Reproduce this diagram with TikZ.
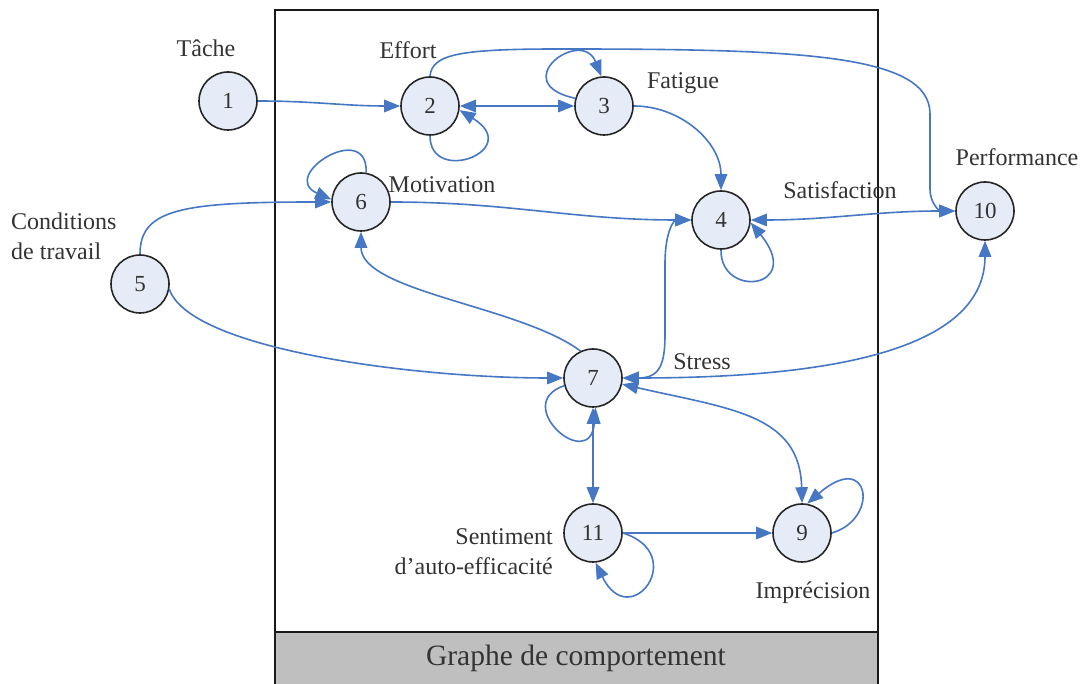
\documentclass[tikz,border=0pt]{standalone}
\usepackage{fontspec}
\setmainfont{Liberation Serif}
\usetikzlibrary{arrows.meta}
\definecolor{edgeblue}{HTML}{4677C4}
\definecolor{nodefill}{HTML}{E6ECF7}
\definecolor{txt}{HTML}{333333}
\begin{document}
\begin{tikzpicture}[x=1pt,y=1pt,
  st/.style={circle,draw=black!85,line width=1.6pt,fill=nodefill,minimum size=58pt,inner sep=0pt,font=\fontsize{23}{26}\selectfont,text=txt},
  lbl/.style={font=\fontsize{24}{30}\selectfont,text=txt,inner sep=0pt},
  ed/.style={draw=edgeblue,line width=1.6pt},
  arr/.style={ed,-{Triangle[length=16pt,width=12.5pt]}},
  arrr/.style={ed,{Triangle[length=16pt,width=12.5pt]}-{Triangle[length=16pt,width=12.5pt]}}]
\useasboundingbox (0,0) rectangle (1083,684);
% frame
\fill[black!25] (275,0) rectangle (878,52);
\draw[line width=2.8pt,black!90] (275,0) -- (275,674) -- (878,674) -- (878,0);
\draw[line width=2.8pt,black!90] (275,52) -- (878,52);
\node[font=\fontsize{29.5}{34}\selectfont,text=txt] (cap) at (576,26) {Graphe de comportement};
% nodes
\node[st] (n1) at (228,583) {1};
\node[st] (n2) at (430,578) {2};
\node[st] (n3) at (604,578) {3};
\node[st] (n4) at (721,464) {4};
\node[st] (n10) at (985,473) {10};
\node[st] (n6) at (361,482) {6};
\node[st] (n5) at (140,400) {5};
\node[st] (n7) at (593,306) {7};
\node[st] (n11) at (593,151) {11};
\node[st] (n9) at (802,151) {9};
% labels
\node[lbl] (l1) at (206,636) {Tâche};
\node[lbl] (l2) at (408,634) {Effort};
\node[lbl] (l3) at (683,601) {Fatigue};
\node[lbl] (l6) at (442,499) {Motivation};
\node[lbl] (l4) at (840,494) {Satisfaction};
\node[lbl] (l10) at (1017,527) {Performance};
\node[lbl,align=left,anchor=west] (l5) at (11,448) {Conditions\\de travail};
\node[lbl] (l7) at (702,322) {Stress};
\node[lbl,align=right,anchor=east] (l11) at (553,132) {Sentiment\\d’auto-efficacité};
\node[lbl] (l9) at (813,91) {Imprécision};
% edges
\draw[arr] (n1) to[out=0,in=180] (n2);
\draw[arrr] (n2) -- (n3);
\draw[arr] (n2.south) .. controls +(0,-50) and +(65,-40) .. (n2.-8);
\draw[arr] (n3.165) .. controls +(-70,15) and +(-20,50) .. (n3.95);
\draw[arr] (n3.east) to[out=0,in=90] (n4.north);
\draw[arr] (n2.north) .. controls (432,630) and (460,635) .. (560,635)
   .. controls (800,635) and (930,630) .. (930,570) -- (930,495)
   .. controls (930,480) and (940,473) .. (n10.west);
\draw[arr] (n6.80) .. controls (368,565) and (278,508) .. (n6.175);
\draw[arr] (n5.north) .. controls +(0,45) and +(-150,0) .. (n6.west);
\draw[arr] (n5.-10) .. controls +(20,-60) and +(-150,0) .. (n7.west);
\draw[arr] (n7.115) .. controls +(-60,45) and +(0,-60) .. (n6.south);
\draw[arr] (n6.east) to[out=0,in=180] (n4.west);
\draw[arrr] (n7.east) .. controls (660,306) and (665,320) .. (665,350) -- (665,420)
   .. controls (665,455) and (675,464) .. (n4.west);
\draw[arrr] (n10.south) .. controls (985,340) and (850,306) .. (n7.east);
\draw[arrr] (n7.-12) .. controls (730,275) and (800,270) .. (n9.north);
\draw[arr] (n7.195) .. controls (510,280) and (590,210) .. (n7.-85);
\draw[arrr] (n7) -- (n11);
\draw[arr] (n11) -- (n9);
\draw[arr] (n11.east) .. controls (690,130) and (630,50) .. (n11.-85);
\draw[arr] (n9.east) .. controls (880,165) and (870,235) .. (n9.80);
\draw[arr] (n4.south) .. controls (720,385) and (805,395) .. (n4.-5);
\draw[arrr] (n4.east) to[out=0,in=180] (n10.west);
\end{tikzpicture}
\end{document}
